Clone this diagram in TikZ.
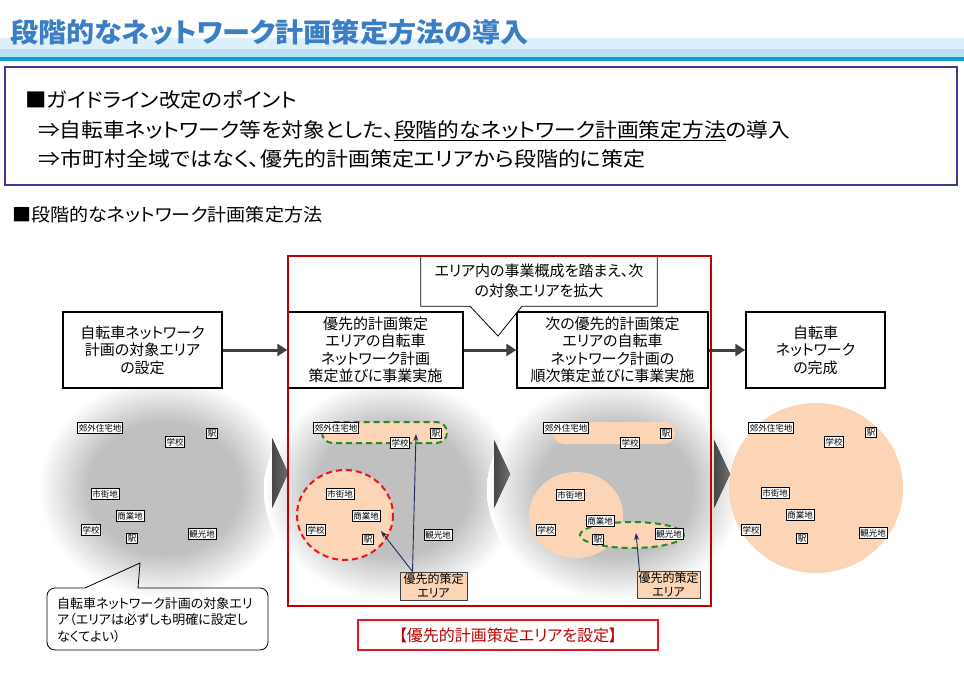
\documentclass[tikz,border=0pt]{standalone}
\usepackage{fontspec}
\setmainfont{Noto Sans CJK JP}[RawFeature=+palt]
\usetikzlibrary{arrows.meta,shapes.geometric}
\definecolor{peach}{RGB}{251,213,181}
\definecolor{grayc}{RGB}{192,192,192}
\definecolor{titleblue}{RGB}{58,126,198}
\definecolor{bandA}{RGB}{221,239,250}
\definecolor{bandB}{RGB}{184,224,240}
\definecolor{cyanline}{RGB}{10,160,210}
\definecolor{indigo}{RGB}{60,60,150}
\definecolor{frame}{RGB}{192,0,0}
\definecolor{darkred}{RGB}{192,0,0}
\definecolor{brightred}{RGB}{232,20,30}
\definecolor{dgreen}{RGB}{34,139,34}
\definecolor{arrowgray}{RGB}{64,64,64}
\definecolor{navy}{RGB}{31,42,92}
\definecolor{chevA}{RGB}{70,70,70}
\definecolor{chevB}{RGB}{110,110,110}
\pgfdeclareradialshading{grayblur}{\pgfpoint{0bp}{0bp}}{color(0bp)=(grayc); color(15bp)=(grayc); color(25bp)=(white); color(50bp)=(white)}
\newcommand{\fitw}[2]{\resizebox{#1}{\height}{#2}}
\begin{document}
\begin{tikzpicture}[x=1pt,y=-1pt,
  flowbox/.style={draw=black, line width=1.4pt, fill=white, align=center, inner sep=0pt,
    font=\fontsize{15}{17.5}\selectfont},
  flowarrow/.style={draw=arrowgray, line width=3pt, -{Triangle[length=10pt,width=12pt]}},
  tag/.style={draw=black, line width=0.8pt, fill=white, inner sep=1.3pt,
    font=\fontsize{8.5}{9}\selectfont},
  prio/.style={draw=arrowgray, line width=0.8pt, fill=peach, align=center, inner sep=1.5pt,
    minimum width=64pt, minimum height=27pt, font=\fontsize{12}{14}\selectfont},
  navyarrow/.style={draw=navy, line width=0.9pt, -{Stealth[length=7pt,width=5pt]}},
  chev/.style={left color=chevA, right color=chevB, draw=none},
  greendash/.style={draw=dgreen, line width=2pt, dash pattern=on 6pt off 4pt, fill=peach},
  reddash/.style={draw=brightred, line width=2pt, dash pattern=on 6pt off 4pt, fill=peach}
]
\useasboundingbox (0,0) rectangle (964,682);
\fill[white] (0,0) rectangle (964,682);

% title band
\fill[bandA] (0,38) rectangle (964,49);
\fill[bandB] (0,49) rectangle (964,57);
\fill[cyanline] (0,57) rectangle (964,61);
\node[anchor=west, inner sep=0pt, text=titleblue] (title) at (10,32.5)
  {\bfseries\resizebox*{518pt}{26pt}{段階的なネットワーク計画策定方法の導入}};

% top box
\node[draw=indigo, line width=2pt, minimum width=952pt, minimum height=118pt, inner sep=0pt] (topbox) at (481,126) {};
\node[anchor=west, inner sep=0pt, font=\fontsize{20}{22}\selectfont] (pt1) at (25,100) {\fitw{272pt}{■ガイドライン改定のポイント}};
\node[anchor=west, inner sep=0pt, font=\fontsize{20}{22}\selectfont] (pt2) at (38,131) {\fitw{752pt}{⇒自転車ネットワーク等を対象とした、\underline{段階的なネットワーク計画策定方法}の導入}};
\node[anchor=west, inner sep=0pt, font=\fontsize{20}{22}\selectfont] (pt3) at (38,159) {\fitw{607pt}{⇒市町村全域ではなく、優先的計画策定エリアから段階的に策定}};

\node[anchor=west, inner sep=0pt, font=\fontsize{18}{20}\selectfont] (sec) at (12,215) {\fitw{310pt}{■段階的なネットワーク計画策定方法}};

% gray blurred areas
\shade[shading=grayblur] (164,488) ellipse [x radius=126, y radius=110];
\shade[shading=grayblur] (392,490) ellipse [x radius=128, y radius=110];
\shade[shading=grayblur] (615,490) ellipse [x radius=128, y radius=110];

% panel 2 shapes
\draw[greendash, rounded corners=10.5pt] (322,422) rectangle (447,443);
\draw[reddash] (345,515) ellipse [x radius=48, y radius=45];
% panel 3 shapes
\fill[peach, rounded corners=11pt] (553,422) rectangle (675,444);
\fill[peach] (576,515) ellipse [x radius=47, y radius=43];
\draw[greendash] (632,535) ellipse [x radius=52, y radius=13];
% panel 4
\fill[peach] (816,488) ellipse [x radius=87, y radius=85];

% chevrons
\fill[chev] (272,438) -- (288,473) -- (272,508) -- cycle;
\fill[chev] (494,440) -- (510,474) -- (494,508) -- cycle;
\fill[chev] (714,440) -- (730,474) -- (714,508) -- cycle;

% flow boxes
\node[flowbox, minimum width=159pt, minimum height=76pt] (b1) at (142.5,350) {自転車ネットワーク\\計画の対象エリア\\の設定};
\node[flowbox, minimum width=175pt, minimum height=76pt] (b2) at (375.5,350) {優先的計画策定\\エリアの自転車\\ネットワーク計画\\策定並びに事業実施};
\node[flowbox, minimum width=191pt, minimum height=76pt] (b3) at (612.5,350) {次の優先的計画策定\\エリアの自転車\\ネットワーク計画の\\順次策定並びに事業実施};
\node[flowbox, minimum width=139pt, minimum height=76pt] (b4) at (815.5,350) {自転車\\ネットワーク\\の完成};
\draw[flowarrow] (b1) -- (b2);
\draw[flowarrow] (b2) -- (b3);
\draw[flowarrow] (b3) -- (b4);

% top callout
\node[minimum width=236pt, minimum height=50pt, inner sep=0pt] (call) at (539,281) {};
\coordinate (calltip) at (498,336);
\draw[line width=0.8pt, fill=white] (call.north west) -- (call.north east) -- (call.south east)
  -- ([xshift=-17pt]call.south) -- (calltip) -- ([xshift=-69pt]call.south) -- (call.south west) -- cycle;
\node[inner sep=0pt, align=center, font=\fontsize{15}{20.5}\selectfont] (calltext) at (call)
  {エリア内の事業概成を踏まえ、次\\の対象エリアを拡大};

% panel 1 tags
\node[tag] (a1) at (100,428) {郊外住宅地};
\node[tag] (a2) at (212,433) {駅};
\node[tag] (a3) at (175,442) {学校};
\node[tag] (a4) at (105,494) {市街地};
\node[tag] (a5) at (130,516) {商業地};
\node[tag] (a6) at (91,530) {学校};
\node[tag] (a7) at (132,538) {駅};
\node[tag] (a8) at (202,534) {観光地};
% panel 2 tags
\node[tag] (c1) at (336,428) {郊外住宅地};
\node[tag] (c2) at (436,433) {駅};
\node[tag] (c3) at (400,443) {学校};
\node[tag] (c4) at (340,494) {市街地};
\node[tag] (c5) at (366,516) {商業地};
\node[tag] (c6) at (316,530) {学校};
\node[tag] (c7) at (368,539) {駅};
\node[tag] (c8) at (438,535) {観光地};
% panel 3 tags
\node[tag] (d1) at (566,428) {郊外住宅地};
\node[tag] (d2) at (666,433) {駅};
\node[tag] (d3) at (630,443) {学校};
\node[tag] (d4) at (570,495) {市街地};
\node[tag] (d5) at (600,521) {商業地};
\node[tag] (d6) at (546,530) {学校};
\node[tag] (d7) at (598,539) {駅};
\node[tag] (d8) at (669,534) {観光地};
% panel 4 tags
\node[tag] (e1) at (771,428) {郊外住宅地};
\node[tag] (e2) at (871,432) {駅};
\node[tag] (e3) at (834,442) {学校};
\node[tag] (e4) at (775,493) {市街地};
\node[tag] (e5) at (800,515) {商業地};
\node[tag] (e6) at (751,530) {学校};
\node[tag] (e7) at (802,538) {駅};
\node[tag] (e8) at (873,533) {観光地};

% priority labels and arrows
\node[prio, minimum width=67pt, minimum height=28pt] (l2) at (433.5,586) {優先的策定\\エリア};
\node[prio, minimum width=63pt, minimum height=26pt] (l3) at (668.5,585) {優先的策定\\エリア};
\coordinate (t2a) at (416,434);
\coordinate (t2b) at (381,531);
\coordinate (t3a) at (636,533);
\draw[navyarrow] ([xshift=-21pt]l2.north) -- (t2a);
\draw[navyarrow] ([xshift=-21pt]l2.north) -- (t2b);
\draw[navyarrow] ([xshift=-29pt]l3.north) -- (t3a);

% bottom-left note
\node[anchor=north west, inner sep=0pt, align=left, font=\fontsize{13}{16.5}\selectfont] (note) at (57,597)
  {自転車ネットワーク計画の対象エリ\\ア（エリアは必ずしも明確に設定し\\なくてよい）};
\coordinate (notetip) at (140,563);
\draw[line width=0.8pt, rounded corners=8pt] (85,588) [sharp corners] -- (notetip) -- (138,588)
  [rounded corners=8pt] -- (268,588) -- (268,650) -- (47,650) -- (47,588) -- (85,588);

% red frame and caption
\node[draw=frame, line width=2.5pt, minimum width=423pt, minimum height=350pt, inner sep=0pt] (redframe) at (499.5,431) {};
\node[draw=brightred, line width=2pt, minimum width=300pt, minimum height=30pt, inner sep=0pt,
  text=darkred, font=\fontsize{16}{18}\selectfont] (caption) at (508,635) {【優先的計画策定エリアを設定】};
\end{tikzpicture}
\end{document}
